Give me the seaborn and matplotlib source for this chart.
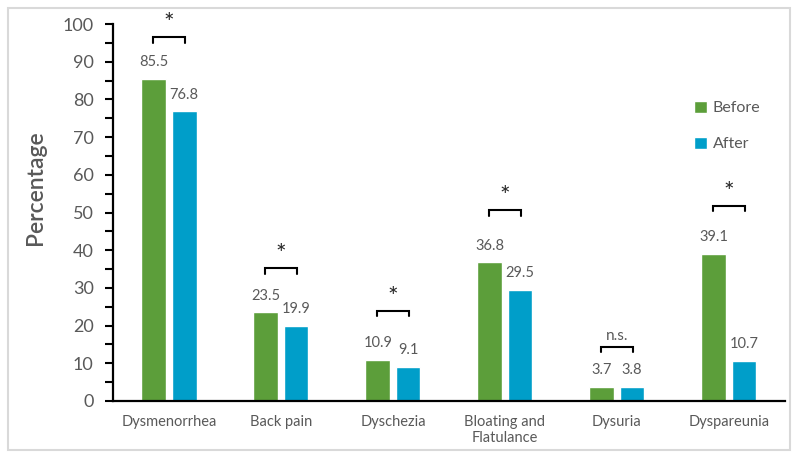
import matplotlib
matplotlib.use("Agg")
import matplotlib.pyplot as plt
import seaborn as sns
import pandas as pd
from matplotlib.ticker import MultipleLocator
from matplotlib.patches import Rectangle

categories = ["Dysmenorrhea", "Back pain", "Dyschezia", "Bloating and\nFlatulance", "Dysuria", "Dyspareunia"]
before = [85.5, 23.5, 10.9, 36.8, 3.7, 39.1]
after = [76.8, 19.9, 9.1, 29.5, 3.8, 10.7]
sig_labels = ["*", "*", "*", "*", "n.s.", "*"]
bracket_y = [96.5, 35.2, 24.0, 50.6, 14.3, 51.7]
series_names = ["Before", "After"]

df = pd.DataFrame({
    "Category": categories * 2,
    "Value": before + after,
    "Period": [series_names[0]] * len(categories) + [series_names[1]] * len(categories),
})

sns.set_theme(style="white")
plt.rcParams["font.family"] = ["Lato", "DejaVu Sans"]

fig = plt.figure(figsize=(7.97, 4.58), dpi=100)
ax = fig.add_axes([0.1418, 0.1245, 0.843, 0.823])

palette = {"Before": "#5c9e3a", "After": "#009ec9"}
sns.barplot(data=df, x="Category", y="Value", hue="Period", palette=palette,
            width=0.54, gap=0.18, ax=ax, legend=True, saturation=1)

gray = "#595959"
for cont in ax.containers:
    ax.bar_label(cont, fmt="%.1f", padding=7, color=gray, fontsize=10.5)

ax.set_ylim(0, 100)
ax.set_xlim(-0.5, len(categories) - 0.5)
ax.yaxis.set_major_locator(MultipleLocator(10))
ax.yaxis.set_minor_locator(MultipleLocator(5))
ax.tick_params(axis="y", which="major", length=6, width=1.5, color="black",
               direction="out", left=True, labelsize=13, labelcolor=gray, pad=8)
ax.tick_params(axis="y", which="minor", length=6, width=1.5, color="black",
               direction="out", left=True)
ax.tick_params(axis="x", length=0, labelsize=10.5, labelcolor=gray, pad=10)
for s in ["top", "right"]:
    ax.spines[s].set_visible(False)
for s in ["left", "bottom"]:
    ax.spines[s].set_color("black")
    ax.spines[s].set_linewidth(1.6)
ax.set_xlabel("")
ax.set_ylabel("Percentage", fontsize=16.5, color=gray, fontweight="semibold")
ax.yaxis.set_label_coords(-0.10, 0.565)

# significance brackets
bars_b = ax.containers[0].patches
bars_a = ax.containers[1].patches
for pb, pa, yb, lab in zip(bars_b, bars_a, bracket_y, sig_labels):
    x1 = pb.get_x() + pb.get_width() * 0.45
    x2 = pa.get_x() + pa.get_width() * 0.55
    h = 1.4
    ax.plot([x1, x1, x2, x2], [yb - h, yb, yb, yb - h], color="black", lw=1.5,
            clip_on=False, solid_joinstyle="miter")
    if lab == "*":
        ax.text((x1 + x2) / 2, yb + 0.5, lab, ha="center", va="bottom", fontsize=18, color="#262626")
    else:
        ax.text((x1 + x2) / 2, yb + 1.2, lab, ha="center", va="bottom", fontsize=11, color=gray)

leg = ax.legend(loc="upper left", bbox_to_anchor=(0.843, 0.835), frameon=False,
                fontsize=11.5, handlelength=0.8, handleheight=0.8, handletextpad=0.4,
                labelspacing=1.35, labelcolor=gray)

fig.patches.append(Rectangle((8 / 797, 8 / 458), 782 / 797, 442 / 458, transform=fig.transFigure,
                             fill=False, edgecolor="#d9d9d9", linewidth=1.5))

fig.savefig("out.png", dpi=100)
